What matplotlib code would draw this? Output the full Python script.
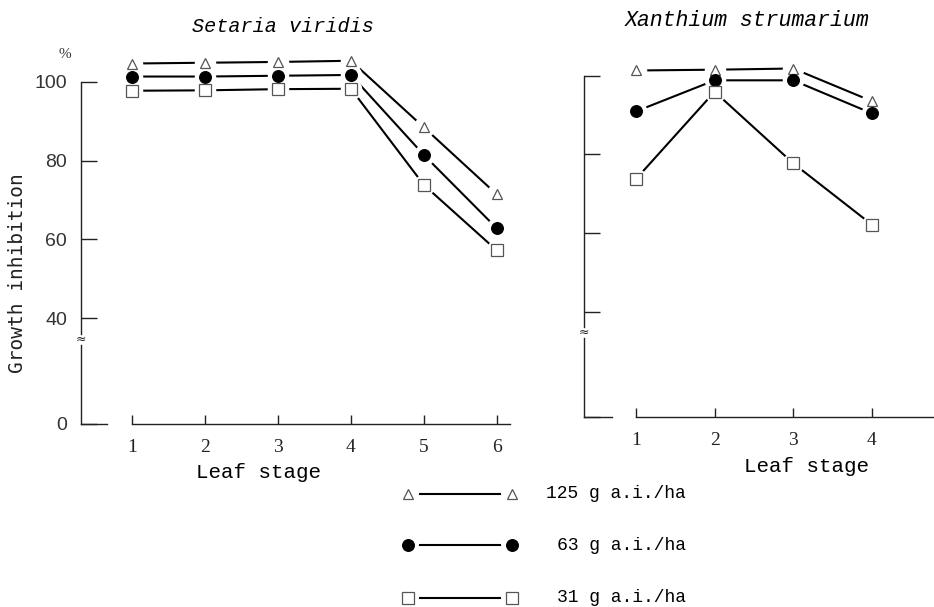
import numpy as np
import matplotlib
matplotlib.use("Agg")
import matplotlib.pyplot as plt

# Growth inhibition (%) by leaf stage at three application rates
setaria_stages = [1, 2, 3, 4, 5, 6]
setaria_125 = [104.6, 104.8, 105.0, 105.3, 88.4, 71.4]
setaria_63 = [101.3, 101.3, 101.5, 101.7, 81.4, 62.8]
setaria_31 = [97.7, 97.8, 98.1, 98.2, 73.8, 57.2]

xanthium_stages = [1, 2, 3, 4]
xanthium_125 = [101.3, 101.5, 101.8, 93.5]
xanthium_63 = [90.9, 98.8, 98.8, 90.4]
xanthium_31 = [73.7, 95.9, 77.7, 62.1]

y_ticks = [0, 40, 60, 80, 100]
dose_labels = ["125 g a.i./ha", "63 g a.i./ha", "31 g a.i./ha"]

# broken y axis: values below 40 are compressed
BREAK = 40.0
ZERO_POS = 13.2
K = (BREAK - ZERO_POS) / BREAK


def fwd(v):
    v = np.asarray(v, dtype=float)
    return np.where(v >= BREAK, v, BREAK - (BREAK - v) * K)


def inv(t):
    t = np.asarray(t, dtype=float)
    return np.where(t >= BREAK, t, BREAK - (BREAK - t) / K)


MONO = "Liberation Mono"
SERIF = "Liberation Serif"

styles = [
    dict(marker="^", ms=6.5, mfc="white", mec="#555555", mew=0.9),
    dict(marker="o", ms=8.5, mfc="black", mec="black", mew=0.8),
    dict(marker="s", ms=8, mfc="white", mec="#555555", mew=0.9),
]

fig = plt.figure(figsize=(9.34, 6.07), dpi=100)
W, H = 934, 607


def make_axes(px_left, px_right, px_bottom, px_top, xlim):
    ax = fig.add_axes([px_left / W, (H - px_bottom) / H,
                       (px_right - px_left) / W, (px_bottom - px_top) / H])
    ax.set_yscale("function", functions=(fwd, inv))
    ax.set_ylim(0, 106)
    ax.set_xlim(*xlim)
    ax.spines["top"].set_visible(False)
    ax.spines["right"].set_visible(False)
    for s in ("left", "bottom"):
        ax.spines[s].set_linewidth(1.0)
        ax.spines[s].set_color("#222222")
    ax.spines["left"].set_bounds(34, 100)
    x0 = xlim[0]
    # lower part of the broken y axis and the short foot of the axis
    ax.plot([x0, x0], [0, 30], color="#222222", lw=1.0, clip_on=False)
    ax.plot([x0, x0 + 0.35], [0, 0], color="#222222", lw=1.0, clip_on=False)
    ax.text(x0, 32, "\u2248", ha="center", va="center", fontsize=9,
            family="DejaVu Sans", color="#222222")
    ax.set_yticks(y_ticks)
    ax.tick_params(axis="y", direction="in", length=11.5, width=1.0,
                   pad=10, labelsize=14, colors="#222222")
    ax.tick_params(axis="x", direction="in", length=6.5, width=1.0,
                   pad=11, labelsize=14, colors="#222222")
    for lab in ax.get_yticklabels():
        lab.set_family("Liberation Sans")
        lab.set_color("#333333")
    return ax


def draw_series(ax, x, series):
    for y, st in zip(series, styles):
        ax.plot(x, y, color="black", lw=1.5, zorder=2, clip_on=False)
        # white halo leaves a small gap between each marker and its lines
        ax.plot(x, y, ls="none", marker="o", ms=15.5, mfc="white", mec="none",
                zorder=3, clip_on=False)
        ax.plot(x, y, ls="none", zorder=4, clip_on=False, **st)


# Setaria viridis
ax1 = make_axes(81, 510, 424, 58, (0.30, 6.18))
ax1.spines["bottom"].set_bounds(1, 6.18)
ax1.set_xticks(setaria_stages)
for lab in ax1.get_xticklabels():
    lab.set_family(SERIF)
draw_series(ax1, setaria_stages, [setaria_125, setaria_63, setaria_31])
ax1.set_xlabel("Leaf stage", family=MONO, fontsize=15)
ax1.xaxis.set_label_coords((259 - 81) / 429, -(463 - 424) / 366)
ax1.xaxis.label.set_va("top")

# Xanthium strumarium
ax2 = make_axes(584, 934, 417, 52, (0.339, 4.79))
ax2.spines["bottom"].set_bounds(1, 4.79)
ax2.set_xticks(xanthium_stages)
ax2.tick_params(axis="y", labelleft=False)
for lab in ax2.get_xticklabels():
    lab.set_family(SERIF)
draw_series(ax2, xanthium_stages, [xanthium_125, xanthium_63, xanthium_31])
ax2.set_xlabel("Leaf stage", family=MONO, fontsize=15)
ax2.xaxis.set_label_coords((807 - 584) / 350, -(457 - 417) / 365)
ax2.xaxis.label.set_va("top")

# titles and axis annotations
fig.text(283 / W, 1 - 26 / H, "Setaria viridis", ha="center", va="center",
         family=MONO, style="italic", fontsize=14.5)
fig.text(747 / W, 1 - 21 / H, "Xanthium strumarium", ha="center", va="center",
         family=MONO, style="italic", fontsize=15.5)
fig.text(65 / W, 1 - 55 / H, "%", ha="center", va="center",
         family=SERIF, fontsize=11, color="#333333")
fig.text(18 / W, 1 - 273 / H, "Growth inhibition", ha="center", va="center",
         rotation=90, family="DejaVu Sans Mono", fontsize=14, color="#222222")

# legend
leg = fig.add_axes([0, 0, 1, 1], zorder=-1)
leg.set_xlim(0, W)
leg.set_ylim(H, 0)
leg.axis("off")
rows_y = [494, 545, 598]
for yy, st, text in zip(rows_y, styles, dose_labels):
    leg.plot([420, 500], [yy, yy], color="black", lw=1.5)
    leg.plot([408, 512], [yy, yy], ls="none", **st)
    leg.text(686, yy, text, ha="right", va="center", family=MONO,
             fontsize=13)

fig.savefig("out.png", dpi=100)
